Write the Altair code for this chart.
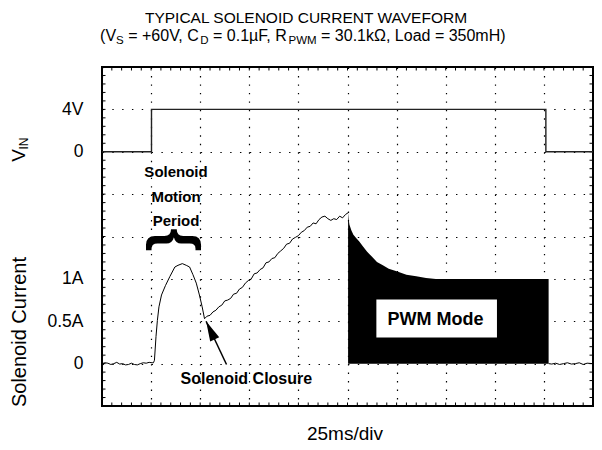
import altair as alt
import pandas as pd

FONT = "Liberation Sans"

# ---------------- text ----------------
TITLE_1 = "TYPICAL SOLENOID CURRENT WAVEFORM"
TITLE_2 = [("(V", False), ("S", True), (" = +60V, C", False), ("D", True),
           (" = 0.1µF, R", False), ("PWM", True), (" = 30.1kΩ, Load = 350mH)", False)]
X_TITLE = "25ms/div"
Y_TITLE_CURRENT = "Solenoid Current"
Y_TITLE_VIN = ("V", "IN")
MOTION_LINES = ["Solenoid", "Motion", "Period"]
CLOSURE_TEXT = "Solenoid Closure"
PWM_TEXT = "PWM Mode"

# ---------------- scales (25 ms/div x 10, 0.5 A/div x 8) ----------------
X_DOMAIN = [0, 250]
Y_DOMAIN = [-0.5, 3.5]
X_GRID = [0, 25, 50, 75, 100, 125, 150, 175, 200, 225, 250]
Y_GRID = [-0.5, 0.0, 0.5, 1.0, 1.5, 2.0, 2.5, 3.0, 3.5]
Y_TICK_TEXT = {0.0: "0", 0.5: "0.5A", 1.0: "1A", 2.5: "0", 3.0: "4V"}
X_MINOR = list(range(0, 251, 5))
Y_MINOR = [round(-0.5 + 0.1 * k, 2) for k in range(41)]

# ---------------- VIN trace (volts), drawn on upper divisions ----------------
VIN_T = [0, 25.2, 25.2, 226, 226, 250]
VIN_V = [0, 0, 4, 4, 0, 0]
VIN_ZERO = 2.5        # VIN 0 V sits on this grid line
VIN_PER_VOLT = 0.125  # 4 V per division

# ---------------- solenoid current (A) ----------------
CUR_T = [0, 1.5, 3, 4.5, 6, 7.5, 9, 10.5, 12, 13.5, 15, 16.5, 18, 19.5, 21, 22.5, 24, 25.5, 26.2,
         26.7, 27.5, 28.2, 29.0, 30.3, 32.3, 34.6, 37.1, 38.7, 40.9, 42.9, 44.6, 46.3, 48.0, 49.6,
         51.0, 52.2,
         53.5, 55.0, 56.5, 58.0, 59.5, 61.0, 62.5, 64.0, 65.5, 67.0, 68.5, 70.0, 71.5, 73.0, 74.5,
         76.0, 77.5, 79.0, 80.5, 82.0, 83.5, 85.0, 86.5, 88.0, 89.5, 91.0, 92.5, 94.0, 95.5, 97.0,
         98.5, 100.0, 101.5, 103.0, 104.5, 106.0, 107.5, 109.0, 110.5, 112.0, 113.5, 115.0, 116.5,
         118.0, 119.5, 121.0, 122.5, 124.0, 125.3]
CUR_I = [0.00, 0.01, 0.005, -0.01, 0.00, 0.015, -0.005, 0.0, -0.015, -0.01, 0.005, -0.01, -0.015,
         0.0, 0.01, 0.005, 0.015, 0.01, 0.01,
         0.04, 0.32, 0.51, 0.67, 0.81, 0.92, 1.03, 1.14, 1.16, 1.18, 1.16, 1.14, 1.05, 0.95, 0.81,
         0.67, 0.53,
         0.56, 0.57, 0.61, 0.63, 0.67, 0.69, 0.74, 0.75, 0.77, 0.82, 0.83, 0.88, 0.90, 0.95, 0.98,
         1.00, 1.06, 1.07, 1.11, 1.13, 1.19, 1.20, 1.24, 1.25, 1.30, 1.33, 1.36, 1.41, 1.42, 1.47,
         1.49, 1.51, 1.55, 1.57, 1.61, 1.62, 1.66, 1.65, 1.70, 1.73, 1.74, 1.71, 1.69,
         1.71, 1.70, 1.74, 1.72, 1.76, 1.78]
TAIL_T = [227.4, 229, 231, 233, 235, 237, 239, 241, 243, 245, 247, 250]
TAIL_I = [0.0, -0.005, 0.005, -0.01, 0.0, 0.01, -0.005, 0.0, 0.01, -0.01, 0.005, 0.0]

# PWM envelope (filled down to 0 A)
PWM_T = [125.3, 125.6, 126.0, 127.0, 128.0, 129.5, 131.0, 133.0, 135.0, 137.5, 140.0, 143.0,
         146.0, 150.0, 155.0, 160.0, 165.0, 170.0, 227.4]
PWM_I = [1.78, 1.70, 1.64, 1.57, 1.52, 1.48, 1.44, 1.38, 1.32, 1.26, 1.20, 1.16,
         1.12, 1.09, 1.05, 1.03, 1.01, 1.00, 1.00]

# annotation anchors (data units: ms, A)
MOTION_T = 37.7
MOTION_I = [2.198, 1.910, 1.624]
BRACE_T, BRACE_I = 37.5, 1.46
ARROW_TAIL = (63.4, -0.01)
ARROW_TIP = (53.0, 0.50)
CLOSURE_T, CLOSURE_I = 73.5, -0.241
PWM_BOX = (139.7, 201.1, 0.307, 0.758)
PWM_LABEL_T, PWM_LABEL_I = 169.8, 0.455

W, H = 491, 339

# Arial/Liberation advance widths (1/1000 em)
AW = {' ': 278, '(': 333, ')': 333, '+': 584, '=': 584, ',': 278, '.': 278,
      'V': 667, 'S': 667, 'C': 722, 'D': 722, 'F': 611, 'R': 722, 'P': 667, 'W': 944,
      'M': 833, 'L': 556, 'H': 722, 'o': 556, 'a': 556, 'd': 556, 'm': 833, 'k': 500,
      'µ': 577, 'Ω': 768}


def text_width(s, size):
    return sum(AW.get(c, 556) for c in s) * size / 1000.0


X_SCALE = alt.Scale(domain=X_DOMAIN, nice=False, zero=False)
Y_SCALE = alt.Scale(domain=Y_DOMAIN, nice=False, zero=False)
label_expr = " : ".join(f"datum.value == {k} ? '{v}'" for k, v in Y_TICK_TEXT.items()) + " : ''"
X_AXIS = alt.Axis(values=X_GRID, grid=True, gridDash=[1.4, 7.075], gridColor="#000",
                  gridOpacity=1, gridWidth=1.2, labels=False, ticks=False, domain=False,
                  title=None)
Y_AXIS = alt.Axis(values=Y_GRID, labelExpr=label_expr, grid=True, gridDash=[1.4, 8.42],
                  gridColor="#000", gridOpacity=1, gridWidth=1.2, ticks=False, domain=False,
                  labelFont=FONT, labelFontSize=17.5, labelColor="black", labelPadding=19,
                  title=None)


def xenc(field="t"):
    return alt.X(f"{field}:Q", scale=X_SCALE, axis=X_AXIS, title=None)


def yenc(field="i"):
    return alt.Y(f"{field}:Q", scale=Y_SCALE, axis=Y_AXIS, title=None)


def pixel_text(s, px, py, size, bold=False, align="left", angle=0, baseline="alphabetic"):
    return alt.Chart(pd.DataFrame({"s": [s]})).mark_text(
        font=FONT, fontSize=size, fontWeight="bold" if bold else "normal",
        align=align, baseline=baseline, angle=angle, color="black"
    ).encode(text="s:N", x=alt.value(px), y=alt.value(py))


layers = []

# minor ticks on the frame
xm = pd.DataFrame({"t": X_MINOR})
ym = pd.DataFrame({"i": Y_MINOR})
layers.append(alt.Chart(xm).mark_rule(color="black", strokeWidth=1).encode(
    x=xenc(), y=alt.value(0), y2=alt.value(3.5)))
layers.append(alt.Chart(xm).mark_rule(color="black", strokeWidth=1).encode(
    x=xenc(), y=alt.value(H - 3.5), y2=alt.value(H)))
layers.append(alt.Chart(ym).mark_rule(color="black", strokeWidth=1).encode(
    y=yenc(), x=alt.value(0), x2=alt.value(3.5)))
layers.append(alt.Chart(ym).mark_rule(color="black", strokeWidth=1).encode(
    y=yenc(), x=alt.value(W - 3.5), x2=alt.value(W)))

# VIN trace
vin_df = pd.DataFrame({"t": VIN_T, "v": VIN_V, "k": range(len(VIN_T))})
layers.append(alt.Chart(vin_df).transform_calculate(
    i=f"{VIN_ZERO} + datum.v * {VIN_PER_VOLT}"
).mark_line(color="#222", strokeWidth=1.4).encode(x=xenc(), y=yenc(), order="k:Q"))

# current trace
cur_df = pd.DataFrame({
    "t": CUR_T + TAIL_T,
    "i": CUR_I + TAIL_I,
    "seg": ["a"] * len(CUR_T) + ["b"] * len(TAIL_T),
    "k": list(range(len(CUR_T) + len(TAIL_T))),
})
layers.append(alt.Chart(cur_df).mark_line(color="black", strokeWidth=1).encode(
    x=xenc(), y=yenc(), detail="seg:N", order="k:Q"))

# PWM filled region
pwm_df = pd.DataFrame({"t": PWM_T, "i": PWM_I})
layers.append(alt.Chart(pwm_df).mark_area(color="black", opacity=1).encode(
    x=xenc(), y=yenc(), y2=alt.datum(0)))

# PWM label box
box_df = pd.DataFrame({"t": [PWM_BOX[0]], "t2": [PWM_BOX[1]], "i": [PWM_BOX[2]], "i2": [PWM_BOX[3]]})
layers.append(alt.Chart(box_df).mark_rect(color="white", opacity=1).encode(
    x=xenc(), x2="t2:Q", y=yenc(), y2="i2:Q"))
layers.append(alt.Chart(pd.DataFrame({"t": [PWM_LABEL_T], "i": [PWM_LABEL_I], "s": [PWM_TEXT]}))
              .mark_text(font=FONT, fontSize=18, fontWeight="bold", baseline="alphabetic",
                         align="center", color="black")
              .encode(x=xenc(), y=yenc(), text="s:N"))

# Motion period label + brace
mot_df = pd.DataFrame({"t": [MOTION_T] * 3, "i": MOTION_I, "s": MOTION_LINES})
layers.append(alt.Chart(mot_df).mark_text(font=FONT, fontSize=15, fontWeight="bold",
                                          baseline="alphabetic", align="center", color="black")
              .encode(x=xenc(), y=yenc(), text="s:N"))
layers.append(alt.Chart(pd.DataFrame({"t": [BRACE_T], "i": [BRACE_I], "s": ["{"]}))
              .mark_text(font=FONT, fontSize=60, fontWeight="bold", baseline="middle",
                         align="center", angle=90, color="black")
              .encode(x=xenc(), y=yenc(), text="s:N"))

# Solenoid closure label + arrow
layers.append(alt.Chart(pd.DataFrame({"t": [CLOSURE_T], "i": [CLOSURE_I], "s": [CLOSURE_TEXT]}))
              .mark_text(font=FONT, fontSize=16, fontWeight="bold", baseline="alphabetic",
                         align="center", color="black")
              .encode(x=xenc(), y=yenc(), text="s:N"))
arrow_df = pd.DataFrame({"t": [ARROW_TAIL[0]], "i": [ARROW_TAIL[1]],
                         "t2": [ARROW_TIP[0]], "i2": [ARROW_TIP[1]]})
layers.append(alt.Chart(arrow_df).mark_rule(color="black", strokeWidth=1.5).encode(
    x=xenc(), y=yenc(), x2="t2:Q", y2="i2:Q"))
layers.append(alt.Chart(pd.DataFrame({"t": [ARROW_TIP[0]], "i": [ARROW_TIP[1]]}))
              .mark_point(shape="M0,0 L0.5,2 L-0.5,2 Z", size=400, filled=True, opacity=1,
                          color="black", angle=334.5, strokeWidth=0)
              .encode(x=xenc(), y=yenc()))

# titles (plot origin sits at page x=102, y=67)
layers.append(pixel_text(TITLE_1, 204, -44.5, 15.5, align="center"))
main_size, sub_size = 16, 11.5
total = sum(text_width(s, sub_size if sub else main_size) for s, sub in TITLE_2)
px = 201 - total / 2
for s, sub in TITLE_2:
    size = sub_size if sub else main_size
    lead = len(s) - len(s.lstrip(" "))
    layers.append(pixel_text(s.strip(" "), px + text_width(" " * lead, size),
                             -22.6 if sub else -26.5, size))
    px += text_width(s, size)

layers.append(pixel_text(X_TITLE, 243, 372.5, 19, align="center"))
layers.append(pixel_text(Y_TITLE_CURRENT, -76, 265, 20, align="center", angle=270))
layers.append(pixel_text(Y_TITLE_VIN[0], -77, 88.5, 19, align="center", angle=270))
layers.append(pixel_text(Y_TITLE_VIN[1], -74, 76.5, 12, align="center", angle=270))

chart = alt.layer(*layers).properties(
    width=W, height=H,
    autosize=alt.AutoSizeParams(type="none"),
    padding={"left": 94, "top": 59, "right": 1, "bottom": 36},
).configure_view(stroke="black", strokeWidth=2)

chart.save("out.html", embed_options={"renderer": "svg", "actions": False})
